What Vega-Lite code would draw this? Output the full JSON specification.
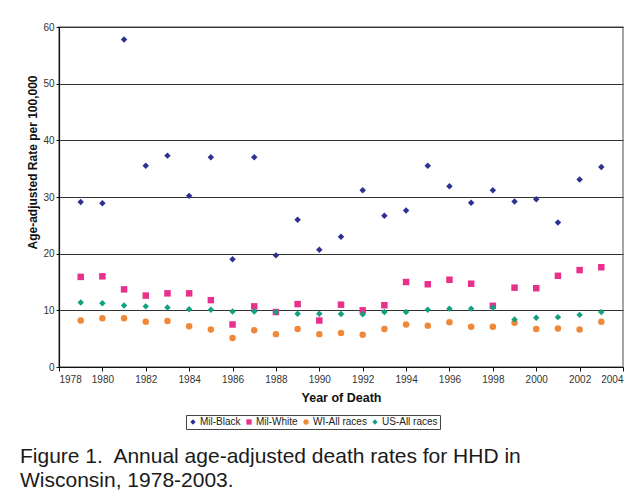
{
  "$schema": "https://vega.github.io/schema/vega-lite/v6.json",
  "width": 564,
  "height": 340,
  "autosize": {"type": "none"},
  "padding": {"left": 59, "top": 27, "right": 15, "bottom": 136},
  "background": "white",
  "data": {
    "values": [
      {"year": 1979, "Mil-Black": 29.1, "Mil-White": 15.9, "WI-All races": 8.2, "US-All races": 11.4},
      {"year": 1980, "Mil-Black": 28.9, "Mil-White": 16.0, "WI-All races": 8.6, "US-All races": 11.25},
      {"year": 1981, "Mil-Black": 57.8, "Mil-White": 13.7, "WI-All races": 8.6, "US-All races": 10.85},
      {"year": 1982, "Mil-Black": 35.5, "Mil-White": 12.6, "WI-All races": 8.0, "US-All races": 10.7},
      {"year": 1983, "Mil-Black": 37.3, "Mil-White": 13.0, "WI-All races": 8.1, "US-All races": 10.5},
      {"year": 1984, "Mil-Black": 30.2, "Mil-White": 13.0, "WI-All races": 7.2, "US-All races": 10.2},
      {"year": 1985, "Mil-Black": 37.0, "Mil-White": 11.8, "WI-All races": 6.6, "US-All races": 10.1},
      {"year": 1986, "Mil-Black": 19.0, "Mil-White": 7.5, "WI-All races": 5.1, "US-All races": 9.8},
      {"year": 1987, "Mil-Black": 37.0, "Mil-White": 10.7, "WI-All races": 6.5, "US-All races": 9.8},
      {"year": 1988, "Mil-Black": 19.7, "Mil-White": 9.7, "WI-All races": 5.8, "US-All races": 9.7},
      {"year": 1989, "Mil-Black": 26.0, "Mil-White": 11.1, "WI-All races": 6.7, "US-All races": 9.4},
      {"year": 1990, "Mil-Black": 20.7, "Mil-White": 8.2, "WI-All races": 5.8, "US-All races": 9.4},
      {"year": 1991, "Mil-Black": 23.0, "Mil-White": 11.0, "WI-All races": 6.0, "US-All races": 9.35},
      {"year": 1992, "Mil-Black": 31.2, "Mil-White": 10.0, "WI-All races": 5.7, "US-All races": 9.3},
      {"year": 1993, "Mil-Black": 26.7, "Mil-White": 10.9, "WI-All races": 6.7, "US-All races": 9.7},
      {"year": 1994, "Mil-Black": 27.6, "Mil-White": 15.0, "WI-All races": 7.5, "US-All races": 9.7},
      {"year": 1995, "Mil-Black": 35.5, "Mil-White": 14.6, "WI-All races": 7.3, "US-All races": 10.1},
      {"year": 1996, "Mil-Black": 31.9, "Mil-White": 15.4, "WI-All races": 7.9, "US-All races": 10.3},
      {"year": 1997, "Mil-Black": 29.0, "Mil-White": 14.7, "WI-All races": 7.1, "US-All races": 10.3},
      {"year": 1998, "Mil-Black": 31.2, "Mil-White": 10.8, "WI-All races": 7.1, "US-All races": 10.5},
      {"year": 1999, "Mil-Black": 29.2, "Mil-White": 14.0, "WI-All races": 7.8, "US-All races": 8.4},
      {"year": 2000, "Mil-Black": 29.6, "Mil-White": 13.9, "WI-All races": 6.7, "US-All races": 8.7},
      {"year": 2001, "Mil-Black": 25.5, "Mil-White": 16.1, "WI-All races": 6.8, "US-All races": 8.8},
      {"year": 2002, "Mil-Black": 33.1, "Mil-White": 17.1, "WI-All races": 6.6, "US-All races": 9.2},
      {"year": 2003, "Mil-Black": 35.3, "Mil-White": 17.6, "WI-All races": 8.0, "US-All races": 9.7}
    ]
  },
  "transform": [
    {"fold": ["Mil-Black", "Mil-White", "WI-All races", "US-All races"], "as": ["series", "rate"]}
  ],
  "title": {
    "text": ["Figure 1.\u00a0 Annual age-adjusted death rates for HHD in", "Wisconsin, 1978-2003."],
    "orient": "bottom",
    "anchor": "start",
    "frame": "group",
    "dx": -39,
    "offset": 16,
    "font": "Liberation Sans",
    "fontSize": 21,
    "fontWeight": "normal",
    "lineHeight": 24,
    "color": "#1a1a1a"
  },
  "mark": {"type": "point", "filled": true, "opacity": 1, "size": 42},
  "encoding": {
    "x": {
      "field": "year",
      "type": "quantitative",
      "scale": {"domain": [1978, 2004], "nice": false, "zero": false},
      "axis": {
        "title": "Year of Death",
        "values": [1978, 1980, 1982, 1984, 1986, 1988, 1990, 1992, 1994, 1996, 1998, 2000, 2002, 2004],
        "format": "d",
        "grid": false,
        "tickSize": 4,
        "labelPadding": 3,
        "titlePadding": 7,
        "titleFontSize": 12.5
      }
    },
    "y": {
      "field": "rate",
      "type": "quantitative",
      "scale": {"domain": [0, 60], "nice": false},
      "axis": {
        "title": "Age-adjusted Rate per 100,000",
        "values": [0, 10, 20, 30, 40, 50, 60],
        "grid": true,
        "tickSize": 3,
        "labelPadding": 2,
        "titleFontSize": 12,
        "titleX": -27,
        "titleY": 135,
        "titleAngle": -90,
        "titleBaseline": "middle",
        "titleAlign": "center"
      }
    },
    "color": {
      "field": "series",
      "type": "nominal",
      "scale": {
        "domain": ["Mil-Black", "Mil-White", "WI-All races", "US-All races"],
        "range": ["#2e3192", "#e8308c", "#f0883a", "#12a07f"]
      },
      "legend": {
        "title": null,
        "orient": "none",
        "legendX": 127,
        "legendY": 388,
        "direction": "horizontal",
        "columns": 4,
        "strokeColor": "#444",
        "padding": 2,
        "symbolSize": 28,
        "labelFontSize": 10,
        "labelFont": "Liberation Sans",
        "labelColor": "#222",
        "columnPadding": 3,
        "labelOffset": 2
      }
    },
    "shape": {
      "field": "series",
      "type": "nominal",
      "scale": {
        "domain": ["Mil-Black", "Mil-White", "WI-All races", "US-All races"],
        "range": ["diamond", "square", "circle", "diamond"]
      },
      "legend": null
    }
  },
  "config": {
    "font": "Liberation Sans",
    "view": {"stroke": "#888", "strokeWidth": 1.5},
    "axis": {
      "domainColor": "#111",
      "domainWidth": 1.2,
      "tickColor": "#111",
      "gridColor": "#333",
      "gridWidth": 1,
      "labelFont": "Liberation Sans",
      "labelFontSize": 10,
      "labelColor": "#333",
      "titleFont": "Liberation Sans",
      "titleFontWeight": "bold",
      "titleColor": "#111"
    }
  }
}
